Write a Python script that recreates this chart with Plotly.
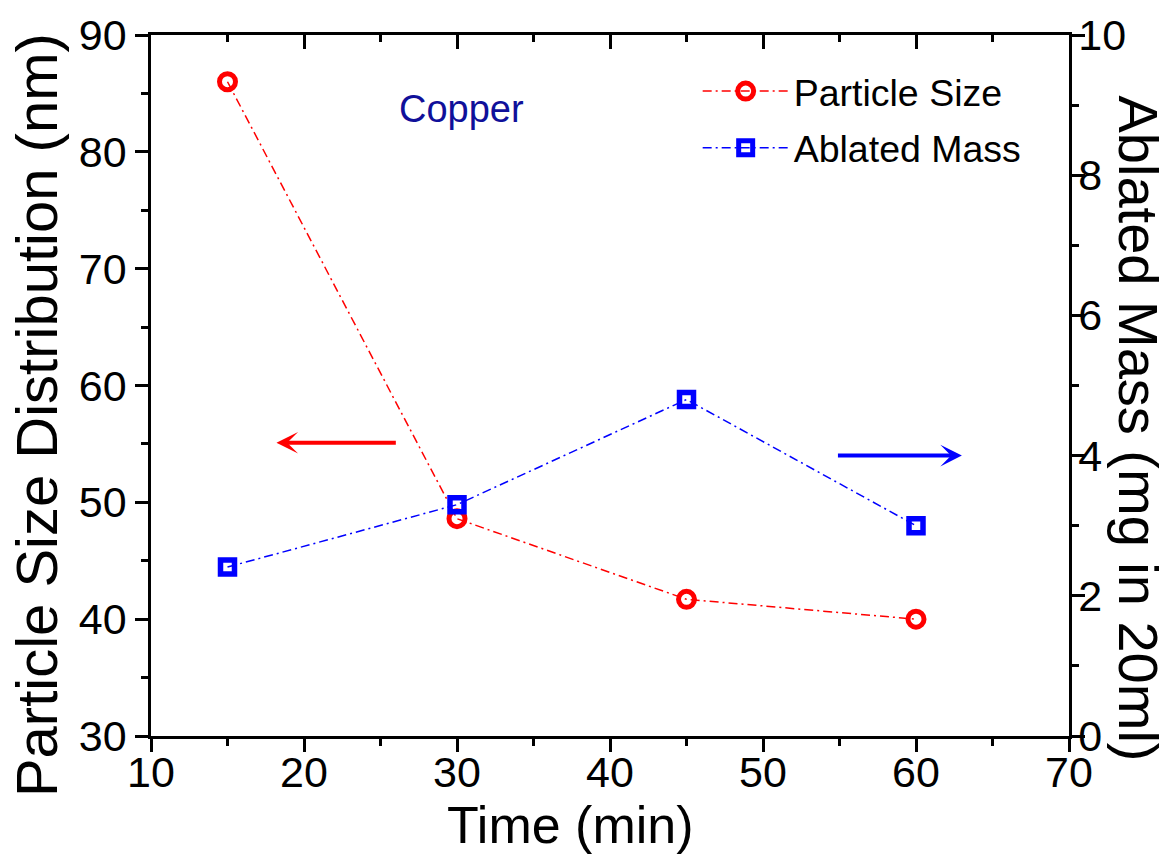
import plotly.graph_objects as go

time_min = [15, 30, 45, 60]
particle_size = [86.0, 48.6, 41.7, 40.0]
ablated_mass = [2.41, 3.30, 4.80, 3.00]

x_ticks = [10, 20, 30, 40, 50, 60, 70]
left_ticks = [30, 40, 50, 60, 70, 80, 90]
right_ticks = [0, 2, 4, 6, 8, 10]

FONT = "Liberation Sans, Arial, sans-serif"
RED = "#ff0000"
BLUE = "#0000ff"

fig = go.Figure()
fig.add_trace(go.Scatter(
    x=time_min, y=particle_size, name="Particle Size", mode="lines+markers",
    legendgroup="a",
    line=dict(color=RED, width=1.5, dash="9px,4px,2px,4px"),
    marker=dict(symbol="circle-open", size=16, color=RED, line=dict(width=5, color=RED)),
    yaxis="y", xaxis="x"))
fig.add_trace(go.Scatter(
    x=time_min, y=ablated_mass, name="Ablated Mass", mode="lines+markers",
    legendgroup="b",
    line=dict(color=BLUE, width=1.5, dash="9px,4px,2px,4px"),
    marker=dict(symbol="square-open", size=14, color=BLUE, line=dict(width=5.5, color=BLUE)),
    yaxis="y2", xaxis="x"))
fig.add_trace(go.Scatter(x=[], y=[], xaxis="x2", yaxis="y", showlegend=False, hoverinfo="skip"))

axis_common = dict(showline=True, linecolor="black", linewidth=2.5, showgrid=False,
                   zeroline=False, tickcolor="black", tickwidth=2.5,
                   tickfont=dict(family=FONT, size=43, color="black"))

fig.update_layout(
    width=1172, height=855,
    margin=dict(l=151, r=103, t=35, b=119),
    plot_bgcolor="white", paper_bgcolor="white",
    font=dict(family=FONT, color="black"),
    xaxis=dict(range=[10, 70], tickvals=x_ticks, ticks="outside", ticklen=13,
               ticklabelstandoff=-16,
               minor=dict(ticks="outside", dtick=5, ticklen=7, tickcolor="black", tickwidth=2.5),
               mirror=True, **axis_common),
    xaxis2=dict(range=[10, 70], overlaying="x", side="top", anchor="y", tickvals=x_ticks,
                ticks="inside", ticklen=14, showticklabels=False,
                minor=dict(ticks="inside", dtick=5, ticklen=7, tickcolor="black", tickwidth=2.5),
                **axis_common),
    yaxis=dict(range=[30, 90], tickvals=left_ticks, ticks="outside", ticklen=13,
               minor=dict(ticks="outside", dtick=5, ticklen=7, tickcolor="black", tickwidth=2.5),
               **axis_common),
    yaxis2=dict(range=[0, 10], tickvals=right_ticks, overlaying="y", side="right", anchor="x",
                ticks="outside", ticklen=13, ticklabelstandoff=-15,
                minor=dict(ticks="outside", dtick=1, ticklen=7, tickcolor="black", tickwidth=2.5),
                **axis_common),
    legend=dict(x=0.5955, y=0.964, xanchor="left", yanchor="top", bgcolor="rgba(0,0,0,0)",
                font=dict(family=FONT, size=37.5, color="black"), itemwidth=86,
                tracegroupgap=5),
    showlegend=True,
)

annotations = [
    dict(text="Time (min)", xref="paper", yref="paper", x=0.4575, y=-0.127,
         xanchor="center", yanchor="middle", showarrow=False,
         font=dict(family=FONT, size=52, color="black")),
    dict(text="Particle Size Distribution (nm)", xref="paper", yref="paper",
         x=-0.124, y=0.458, xanchor="center", yanchor="middle", textangle=-90,
         showarrow=False, font=dict(family=FONT, size=58, color="black")),
    dict(text="Ablated Mass (mg in 20ml)", xref="paper", yref="paper",
         x=1.076, y=0.439, xanchor="center", yanchor="middle", textangle=90,
         showarrow=False, font=dict(family=FONT, size=56, color="black")),
    dict(text="Copper", xref="x", yref="y", x=30.3, y=83.7, xanchor="center", yanchor="middle",
         showarrow=False, font=dict(family=FONT, size=38, color="#10109a")),
    dict(x=18.2, y=55.1, ax=26.1, ay=55.1, xref="x", yref="y", axref="x", ayref="y",
         showarrow=True, arrowhead=3, arrowsize=0.9, arrowwidth=4, arrowcolor=RED, text=""),
    dict(x=63.0, y=4.0, ax=54.8, ay=4.0, xref="x", yref="y2", axref="x", ayref="y2",
         showarrow=True, arrowhead=3, arrowsize=0.9, arrowwidth=4, arrowcolor=BLUE, text=""),
]
fig.update_layout(annotations=annotations)

fig.write_html("out.html")
